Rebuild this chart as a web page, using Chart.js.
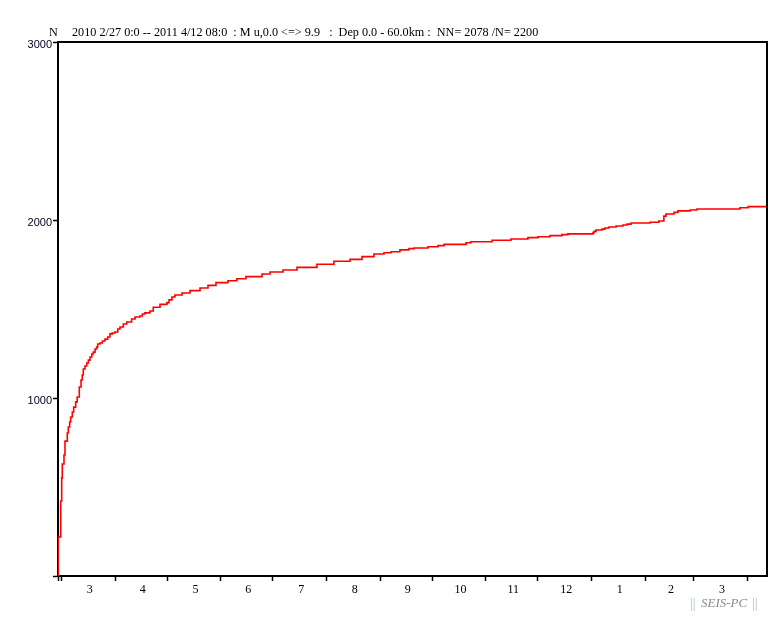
<!DOCTYPE html>
<html>
<head>
<meta charset="utf-8">
<title>Cumulative count</title>
<script src="https://cdn.jsdelivr.net/npm/chart.js@4/dist/chart.umd.min.js"></script>
<style>
  body { margin: 0; background: #fff; }
  #wrap { position: relative; width: 783px; height: 618px; }
</style>
</head>
<body>
<div id="wrap"><canvas id="cum-chart" width="783" height="618"></canvas></div>
<script>
// Cumulative number of events, 2010 2/27 -> 2011 4/12
// x values are days since 2010-02-27 00:00
const headerLabel = 'N';
const headerText = '2010 2/27 0:0 -- 2011 4/12 08:0  : M u,0.0 <=> 9.9   :  Dep 0.0 - 60.0km :  NN= 2078 /N= 2200';
const watermark = 'SEIS-PC';

const X_MAX = 409.33;
const yTicks = [0, 1000, 2000, 3000];

// month boundaries (days) and month numbers shown between them
const monthStarts = [0, 2, 33, 63, 94, 124, 155, 186, 216, 247, 277, 308, 339, 367, 398];
const monthLabels = ['3', '4', '5', '6', '7', '8', '9', '10', '11', '12', '1', '2', '3'];

// step times (days) and cumulative count after each step
const eventDays = [
    0, 0.17, 1.56, 2.14, 2.48, 3.46, 4.04, 5.37, 5.95, 6.75, 7.33,
    8.26, 9.06, 10.2, 11.1, 12.3, 13.3, 14.0, 14.6, 15.6, 16.6,
    17.5, 18.5, 19.5, 20.4, 21.4, 22.3, 22.9, 24.2, 25.6, 27.1,
    28.7, 30.0, 31.3, 32.9, 34.5, 35.8, 37.7, 39.7, 42.5, 44.5,
    47.3, 48.7, 50.2, 53.1, 55.0, 58.9, 62.9, 64.1, 65.8, 67.5,
    71.6, 76.2, 82.0, 86.6, 91.2, 98.1, 103.3, 108.5, 117.8, 122.4,
    129.9, 138.0, 149.5, 159.3, 168.6, 175.5, 182.4, 188.2, 192.3, 197.4,
    202.6, 205.5, 213.6, 219.4, 222.9, 235.6, 238.4, 250.6, 261.5, 271.3,
    277.1, 284.0, 290.9, 294.4, 308.9, 309.5, 310.6, 314.1, 315.8, 318.1,
    322.2, 326.2, 328.5, 330.8, 341.8, 346.9, 349.8, 351.0, 355.6, 357.9,
    364.9, 368.9, 393.7, 398.4, 409.33
];
const cumCounts = [
    0, 220, 421, 551, 629, 680, 758, 803, 837, 865, 893,
    921, 949, 978, 1006, 1062, 1101, 1129, 1163, 1180, 1197,
    1213, 1230, 1247, 1258, 1275, 1286, 1303, 1309, 1320, 1331,
    1343, 1360, 1365, 1371, 1388, 1399, 1416, 1427, 1444, 1455,
    1461, 1472, 1478, 1489, 1510, 1526, 1536, 1551, 1567, 1579,
    1590, 1603, 1618, 1633, 1648, 1659, 1670, 1682, 1697, 1708,
    1719, 1734, 1751, 1768, 1779, 1794, 1809, 1816, 1822, 1832,
    1839, 1843, 1850, 1856, 1863, 1872, 1878, 1886, 1893, 1901,
    1906, 1912, 1918, 1922, 1929, 1936, 1944, 1949, 1955, 1961,
    1966, 1972, 1977, 1983, 1987, 1994, 2022, 2034, 2043, 2051,
    2056, 2062, 2069, 2075, 2078
];

// tick list for x: boundaries get a mark, mid-months get a label
function buildXTicks() {
    const ticks = [];
    monthStarts.forEach(d => ticks.push({ value: d, label: '', major: true }));
    for (let i = 0; i < monthLabels.length; i++) {
        const a = monthStarts[i + 1];
        const b = monthStarts[i + 2] !== undefined ? monthStarts[i + 2] : X_MAX;
        ticks.push({ value: (a + b) / 2, label: monthLabels[i], major: false });
    }
    return ticks.sort((p, q) => p.value - q.value);
}
const xTickList = buildXTicks();

// frame, header line and watermark
const decorPlugin = {
    id: 'decor',
    afterDraw(chart) {
        const { ctx, chartArea } = chart;
        ctx.save();
        ctx.strokeStyle = '#000';
        ctx.lineWidth = 2;
        ctx.beginPath();
        ctx.moveTo(chartArea.left, chartArea.top);
        ctx.lineTo(chartArea.right, chartArea.top);
        ctx.lineTo(chartArea.right, chartArea.bottom);
        ctx.stroke();

        ctx.fillStyle = '#000';
        ctx.font = '12.2px "Liberation Serif"';
        ctx.textBaseline = 'middle';
        ctx.fillText(headerLabel, 49, 33);
        ctx.fillText(headerText, 72, 33);

        ctx.font = '14px "Liberation Serif"';
        ctx.fillStyle = '#9cbde2';
        ctx.fillText('||', 690, 604);
        ctx.fillText('||', 752, 604);
        ctx.font = 'italic 13px "Liberation Serif"';
        ctx.fillStyle = '#8a8a9a';
        ctx.fillText(watermark, 701, 604);
        ctx.restore();
    }
};

document.addEventListener('DOMContentLoaded', () => {
    const ctx = document.getElementById('cum-chart').getContext('2d');
    new Chart(ctx, {
        type: 'line',
        data: {
            datasets: [{
                data: eventDays.map((d, i) => ({ x: d, y: cumCounts[i] })),
                borderColor: '#ff0000',
                borderWidth: 1.6,
                pointRadius: 0,
                stepped: true,
                fill: false
            }]
        },
        options: {
            responsive: false,
            animation: false,
            layout: { padding: { top: 42, right: 16, bottom: 0, left: 0 } },
            plugins: {
                legend: { display: false },
                tooltip: { enabled: false },
                title: { display: false }
            },
            scales: {
                x: {
                    type: 'linear',
                    min: 0,
                    max: X_MAX,
                    afterBuildTicks: scale => { scale.ticks = xTickList.map(t => ({ value: t.value })); },
                    afterFit: scale => { scale.height = 42; },
                    grid: {
                        drawOnChartArea: false,
                        tickLength: 5,
                        tickWidth: 1.5,
                        tickColor: c => (c.tick && xTickList[c.index] && xTickList[c.index].major) ? '#000' : 'rgba(0,0,0,0)'
                    },
                    border: { color: '#000', width: 2 },
                    ticks: {
                        autoSkip: false,
                        maxRotation: 0,
                        padding: 2,
                        labelOffset: 1.5,
                        color: '#000',
                        font: { family: 'Liberation Serif', size: 12 },
                        callback: (v, i) => xTickList[i] ? xTickList[i].label : ''
                    }
                },
                y: {
                    min: 0,
                    max: 3000,
                    afterBuildTicks: scale => { scale.ticks = yTicks.map(v => ({ value: v })); },
                    afterFit: scale => { scale.width = 58; },
                    grid: {
                        drawOnChartArea: false,
                        tickLength: 5,
                        tickWidth: 1.5,
                        tickColor: '#000'
                    },
                    border: { color: '#000', width: 2 },
                    ticks: {
                        padding: 1,
                        labelOffset: 3,
                        color: '#000022',
                        font: { family: 'Liberation Sans', size: 11 },
                        callback: v => (v === 0 ? '' : String(v))
                    }
                }
            }
        },
        plugins: [decorPlugin]
    });
});
</script>
</body>
</html>
